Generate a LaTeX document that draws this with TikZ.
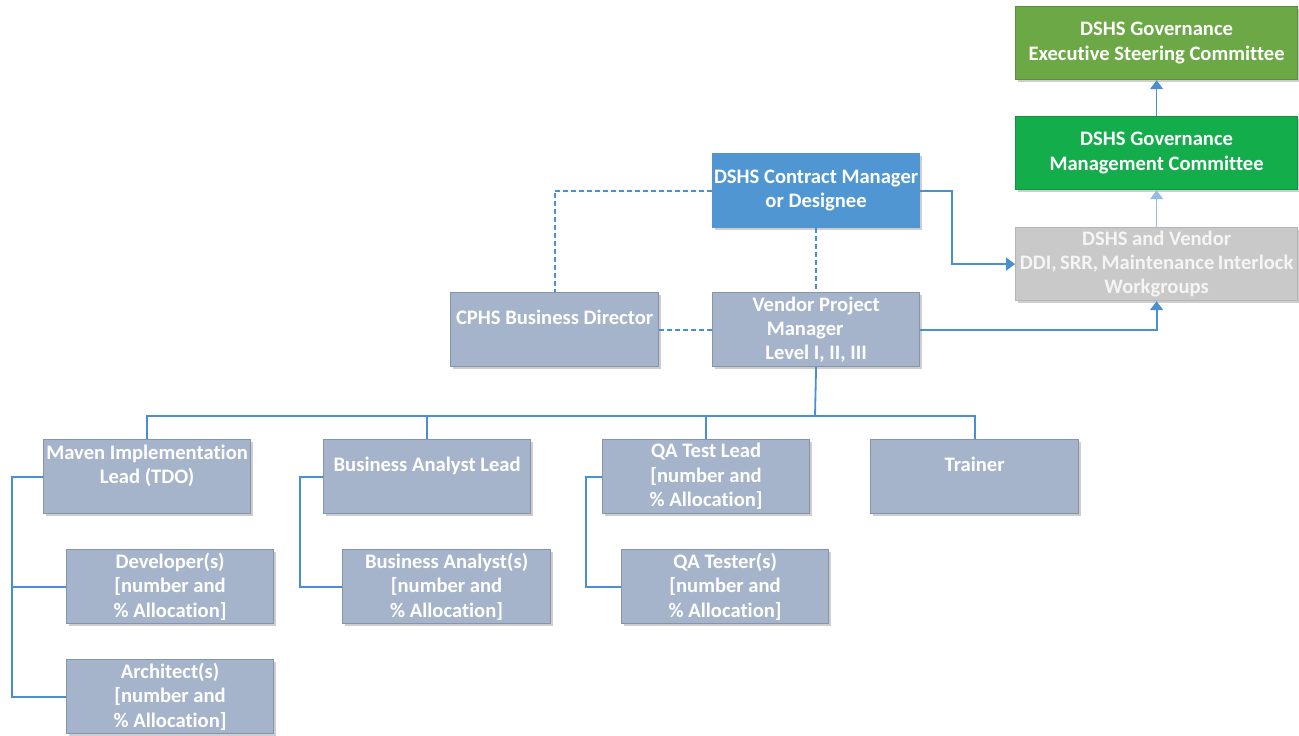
\documentclass[tikz,border=0pt]{standalone}
\usepackage{fontspec}
\setmainfont{Carlito}[Ligatures=NoCommon]
\usetikzlibrary{arrows.meta,shadows}
\definecolor{linkblue}{HTML}{4A90D0}
\definecolor{roleblue}{HTML}{A5B4CB}
\definecolor{roleedge}{HTML}{8395AD}
\definecolor{dshsblue}{HTML}{5096D2}
\definecolor{escgreen}{HTML}{6CA846}
\definecolor{mcgreen}{HTML}{13AD4C}
\definecolor{wggray}{HTML}{C9C9C9}
\tikzset{
  x=1pt, y=-1pt,
  orgbox/.style={draw=roleedge, line width=1.2pt, fill=roleblue, text=white,
    anchor=north west, minimum width=207pt, minimum height=74pt,
    inner sep=0pt, align=center,
    font=\fontsize{20.6}{24.4}\selectfont\bfseries,
    drop shadow={shadow xshift=2.5pt, shadow yshift=-2.5pt, opacity=0.35, fill=black!55}},
  govbox/.style={orgbox, minimum width=282pt, minimum height=73pt},
  link/.style={draw=linkblue, line width=1.8pt},
  dotlink/.style={draw=linkblue, line width=1.8pt, dash pattern=on 5pt off 3pt},
  tip/.style={-{Triangle[width=13pt,length=9pt]}}
}
\newcommand{\alloc}{\\{}[number and\\\% Allocation]}
\begin{document}
\begin{tikzpicture}
\useasboundingbox (0,0) rectangle (1299,736);

% governance
\node[govbox, fill=escgreen, draw=escgreen!85!black] (esc) at (1015,6) {DSHS Governance\\Executive Steering Committee};
\node[govbox, fill=mcgreen, draw=mcgreen!85!black] (mc) at (1015,116) {DSHS Governance\\Management Committee};
\node[govbox, fill=wggray, draw=wggray!90!black, text=white!92!gray] (wg) at (1015,227) {DSHS and Vendor\\DDI,\,SRR,\,Maintenance\,Interlock\\Workgroups};

% management
\node[orgbox, fill=dshsblue, draw=dshsblue!85!gray] (cm) at (712,153) {DSHS Contract Manager\\or Designee};
\node[orgbox, minimum width=208pt] (cphs) at (450,292) {CPHS Business Director\\\mbox{}};
\node[orgbox] (vpm) at (712,292) {Vendor Project\\Manager\kern22pt\mbox{}\\Level I, II, III};

% leads
\node[orgbox] (maven) at (43,439) {Maven Implementation\\Lead (TDO)\\\mbox{}};
\node[orgbox] (bal) at (323,439) {Business Analyst Lead\\\mbox{}};
\node[orgbox] (qal) at (602,439) {QA Test Lead\alloc};
\node[orgbox, minimum width=208pt] (trn) at (870,439) {Trainer\\\mbox{}};

% staff
\node[orgbox] (dev) at (66,549) {Developer(s)\alloc};
\node[orgbox, minimum width=208pt] (bas) at (342,549) {Business Analyst(s)\alloc};
\node[orgbox] (qat) at (621,549) {QA Tester(s)\alloc};
\node[orgbox] (arch) at (66,659) {Architect(s)\alloc};

% dotted-line relationships
\draw[dotlink] (cm.west) -| (cphs.north);
\draw[dotlink] (cm.south) -- (vpm.north);
\draw[dotlink] (cphs.east) -- (vpm.west);

% reporting to governance
\draw[link, tip] (cm.east) -- ++(32,0) |- (wg.west);
\draw[link, tip] (vpm.east) -| (wg.south);
\draw[draw=linkblue!60, line width=0.8pt, tip] (wg.north) -- (mc.south);
\draw[draw=linkblue, line width=1.2pt, tip] (mc.north) -- (esc.south);

% team tree
\coordinate (bus) at (815,416);
\draw[link] (vpm.south) -- (bus);
\draw[link] (bus) -| (maven.north);
\draw[link] (bus) -| (bal.north);
\draw[link] (bus) -| (qal.north);
\draw[link] (bus) -| (trn.north);

\draw[link] (maven.west) -- ++(-31,0) |- (dev.west);
\draw[link] (maven.west) -- ++(-31,0) |- (arch.west);
\draw[link] (bal.west) -- ++(-23,0) |- (bas.west);
\draw[link] (qal.west) -- ++(-16,0) |- (qat.west);
\end{tikzpicture}
\end{document}
